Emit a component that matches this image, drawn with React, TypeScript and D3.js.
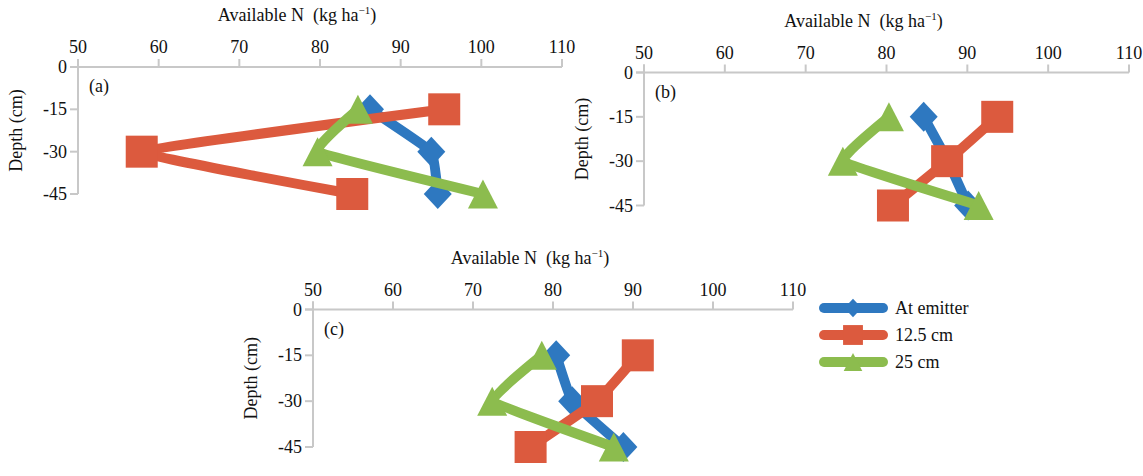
import React from "react";
import * as d3 from "d3";

const depths = [-15, -30, -45];
const xTicks = [50, 60, 70, 80, 90, 100, 110];
const yTicks = [0, -15, -30, -45];
const seriesNames = ["At emitter", "12.5 cm", "25 cm"];
const colors = ["#2e78c0", "#dc5a3e", "#8cbc4e"];

const panelA_emitter = [86.2, 93.8, 94.6];
const panelA_125 = [95.4, 57.9, 84];
const panelA_25 = [84.7, 79.7, 100.2];

const panelB_emitter = [84.6, 87.6, 90.1];
const panelB_125 = [93.7, 87.5, 80.8];
const panelB_25 = [80.3, 74.6, 91.4];

const panelC_emitter = [80.4, 82.4, 88.8];
const panelC_125 = [90.6, 85.5, 77.2];
const panelC_25 = [78.6, 72.4, 87.6];

const panels = [
  { label: "(a)", series: [panelA_emitter, panelA_125, panelA_25], left: 78, right: 562, top: 67, bottom: 194 },
  { label: "(b)", series: [panelB_emitter, panelB_125, panelB_25], left: 644, right: 1129, top: 72.5, bottom: 205.5 },
  { label: "(c)", series: [panelC_emitter, panelC_125, panelC_25], left: 313, right: 793, top: 309.5, bottom: 447 },
];

const FONT = "Liberation Serif, Times New Roman, serif";
const FS = 18;

function Marker({ kind, x, y, color, scale = 1 }: { kind: number; x: number; y: number; color: string; scale?: number }) {
  if (kind === 0) {
    const w = 14 * scale, h = 15 * scale;
    return <path d={`M${x},${y - h}L${x + w},${y}L${x},${y + h}L${x - w},${y}Z`} fill={color} />;
  }
  if (kind === 1) {
    const s = 16 * scale;
    return <rect x={x - s} y={y - s} width={2 * s} height={2 * s} fill={color} />;
  }
  const w = 15 * scale, h = 29 * scale;
  return <path d={`M${x},${y - h * 0.5}L${x + w},${y + h * 0.5}L${x - w},${y + h * 0.5}Z`} fill={color} />;
}

function Panel({ p }: { p: any }) {
  const x = d3.scaleLinear().domain([50, 110]).range([p.left, p.right]);
  const y = d3.scaleLinear().domain([0, -45]).range([p.top, p.bottom]);
  const line = d3
    .line<number>()
    .x((d) => x(d))
    .y((_, i) => y(depths[i]))
    .curve(d3.curveCardinal.tension(0.75));
  const axisColor = "#c8c8c8";
  return (
    <g>
      <text
        x={(p.left + p.right) / 2 - 23}
        y={p.top - 46}
        textAnchor="middle"
        fontFamily={FONT}
        fontSize={FS}
        fill="#111"
      >
        Available N{"\u00a0\u00a0"}(kg ha
        <tspan dy={-7} fontSize={11}>−1</tspan>
        <tspan dy={7}>)</tspan>
      </text>
      <line x1={p.left - 8} x2={p.right} y1={p.top} y2={p.top} stroke={axisColor} strokeWidth={2} />
      <line x1={p.left} x2={p.left} y1={p.top - 8} y2={p.bottom} stroke={axisColor} strokeWidth={2} />
      {xTicks.map((t) => (
        <g key={t}>
          <line x1={x(t)} x2={x(t)} y1={p.top - 8} y2={p.top} stroke={axisColor} strokeWidth={2} />
          <text x={x(t)} y={p.top - 14} textAnchor="middle" fontFamily={FONT} fontSize={FS} fill="#111">
            {t}
          </text>
        </g>
      ))}
      {yTicks.map((t) => (
        <g key={t}>
          <line x1={p.left - 8} x2={p.left} y1={y(t)} y2={y(t)} stroke={axisColor} strokeWidth={2} />
          <text x={p.left - 11} y={y(t) + 6} textAnchor="end" fontFamily={FONT} fontSize={FS} fill="#111">
            {t}
          </text>
        </g>
      ))}
      <text
        transform={`translate(${p.left - 56},${(p.top + p.bottom) / 2}) rotate(-90)`}
        textAnchor="middle"
        fontFamily={FONT}
        fontSize={FS}
        fill="#111"
      >
        Depth (cm)
      </text>
      <text x={p.left + 11} y={p.top + 25} fontFamily={FONT} fontSize={FS} fill="#111">
        {p.label}
      </text>
      {p.series.map((s: number[], si: number) => (
        <g key={si}>
          <path
            d={line(s) || ""}
            fill="none"
            stroke={colors[si]}
            strokeWidth={10}
            strokeLinejoin="round"
            strokeLinecap="round"
          />
          {s.map((v, i) => (
            <Marker key={i} kind={si} x={x(v)} y={y(depths[i])} color={colors[si]} />
          ))}
        </g>
      ))}
    </g>
  );
}

export default function App() {
  const legendY = [308, 335, 362];
  return (
    <svg width={1143} height={476} style={{ position: "absolute", left: 0, top: 0 }}>
      <rect width={1143} height={476} fill="#fff" />
      {panels.map((p, i) => (
        <Panel key={i} p={p} />
      ))}
      {seriesNames.map((name, i) => (
        <g key={name}>
          <line x1={824} x2={883} y1={legendY[i]} y2={legendY[i]} stroke={colors[i]} strokeWidth={10} strokeLinecap="round" />
          <Marker kind={i} x={853} y={legendY[i]} color={colors[i]} scale={0.62} />
          <text x={895} y={legendY[i] + 6} fontFamily={FONT} fontSize={FS} fill="#111">
            {name}
          </text>
        </g>
      ))}
    </svg>
  );
}
